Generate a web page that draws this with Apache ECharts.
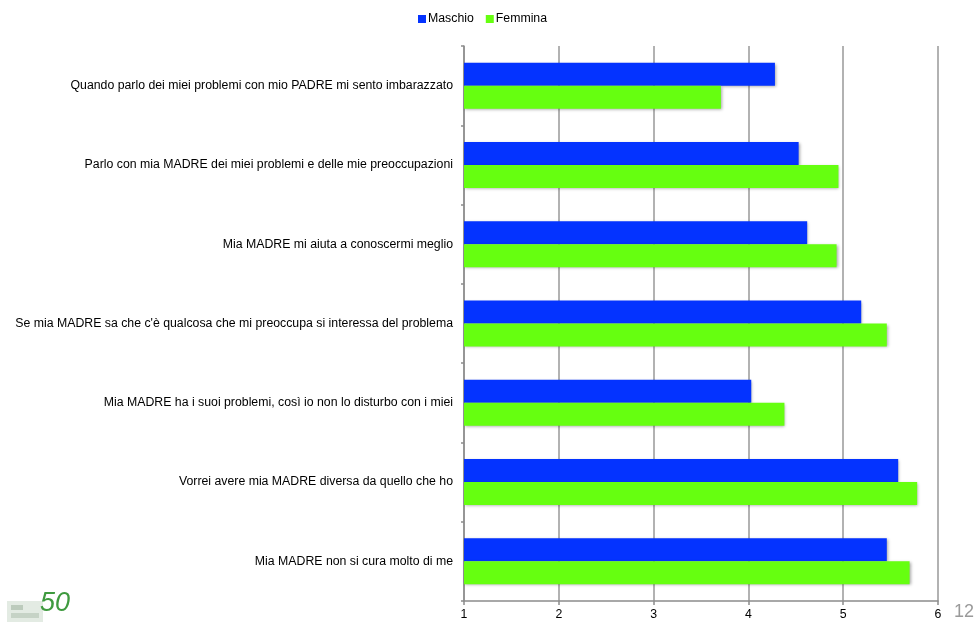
<!DOCTYPE html>
<html>
<head>
<meta charset="utf-8">
<script src="https://cdn.jsdelivr.net/npm/echarts@6/dist/echarts.min.js"></script>
<style>
html,body{margin:0;padding:0;background:#fff;}
#chart{width:979px;height:622px;}
</style>
</head>
<body>
<div id="chart"></div>
<script>
var categories = [
  "Quando parlo dei miei problemi con mio PADRE mi sento imbarazzato",
  "Parlo con mia MADRE dei miei problemi e delle mie preoccupazioni",
  "Mia MADRE mi aiuta a conoscermi meglio",
  "Se mia MADRE sa che c'è qualcosa che mi preoccupa si interessa del problema",
  "Mia MADRE ha i suoi problemi, così io non lo disturbo con i miei",
  "Vorrei avere mia MADRE diversa da quello che ho",
  "Mia MADRE non si cura molto di me"
];
var seriesNames = ["Maschio", "Femmina"];
var maschio = [4.28, 4.53, 4.62, 5.19, 4.03, 5.58, 5.46];
var femmina = [3.71, 4.95, 4.93, 5.46, 4.38, 5.78, 5.70];
var xTicks = [1, 2, 3, 4, 5, 6];
var pageNumber = "12";

var chart = echarts.init(document.getElementById('chart'), null, {renderer: 'canvas'});
var font = "'Liberation Sans', Arial, sans-serif";
var barShadow = {shadowColor: 'rgba(0,0,0,0.35)', shadowBlur: 3, shadowOffsetX: 1, shadowOffsetY: 1};

chart.setOption({
  animation: false,
  backgroundColor: '#ffffff',
  legend: {
    data: seriesNames,
    left: 413,
    top: 8,
    itemWidth: 8,
    itemHeight: 8,
    itemGap: 12,
    icon: 'rect',
    textStyle: {fontFamily: font, fontSize: 12.3, color: '#000', padding: [0, 0, 0, -3]}
  },
  grid: {left: 464, right: 41, top: 46, bottom: 21, containLabel: false},
  xAxis: {
    type: 'value',
    min: xTicks[0],
    max: xTicks[xTicks.length - 1],
    interval: 1,
    axisLine: {show: true, lineStyle: {color: '#8c8c8c', width: 1.5}},
    axisTick: {show: true, length: 4, lineStyle: {color: '#8c8c8c', width: 1.5}},
    axisLabel: {fontFamily: font, fontSize: 12.3, color: '#000', margin: 8,
      formatter: function (v) { return xTicks.indexOf(v) >= 0 ? String(v) : ''; }},
    splitLine: {show: true, lineStyle: {color: '#999', width: 1.5}}
  },
  yAxis: {
    type: 'category',
    data: categories,
    inverse: true,
    axisLine: {show: true, lineStyle: {color: '#8c8c8c', width: 1.5}},
    axisTick: {show: true, length: 3, lineStyle: {color: '#8c8c8c', width: 1.5}},
    axisLabel: {fontFamily: font, fontSize: 12.3, color: '#000', margin: 11},
    splitLine: {show: false}
  },
  series: [
    {
      name: seriesNames[0], type: 'bar', data: maschio,
      barGap: '0%', barCategoryGap: '42%',
      itemStyle: Object.assign({color: '#0433FF'}, barShadow)
    },
    {
      name: seriesNames[1], type: 'bar', data: femmina,
      barGap: '0%', barCategoryGap: '42%',
      itemStyle: Object.assign({color: '#66FF10'}, barShadow)
    }
  ],
  graphic: [
    {type: 'text', left: 954, top: 603, style: {text: pageNumber, fontFamily: font, fontSize: 18, fill: '#9a9a9a'}},
    {type: 'rect', shape: {x: 7, y: 601, width: 36, height: 21}, style: {fill: '#e3ebe3'}},
    {type: 'rect', shape: {x: 11, y: 605, width: 12, height: 5}, style: {fill: '#bccbbc'}},
    {type: 'rect', shape: {x: 11, y: 613, width: 28, height: 5}, style: {fill: '#c6d3c6'}},
    {type: 'text', left: 40, top: 590, style: {text: '50', fontFamily: font, fontSize: 27, fontStyle: 'italic', fill: '#3f9a3f'}}
  ]
});
</script>
</body>
</html>
